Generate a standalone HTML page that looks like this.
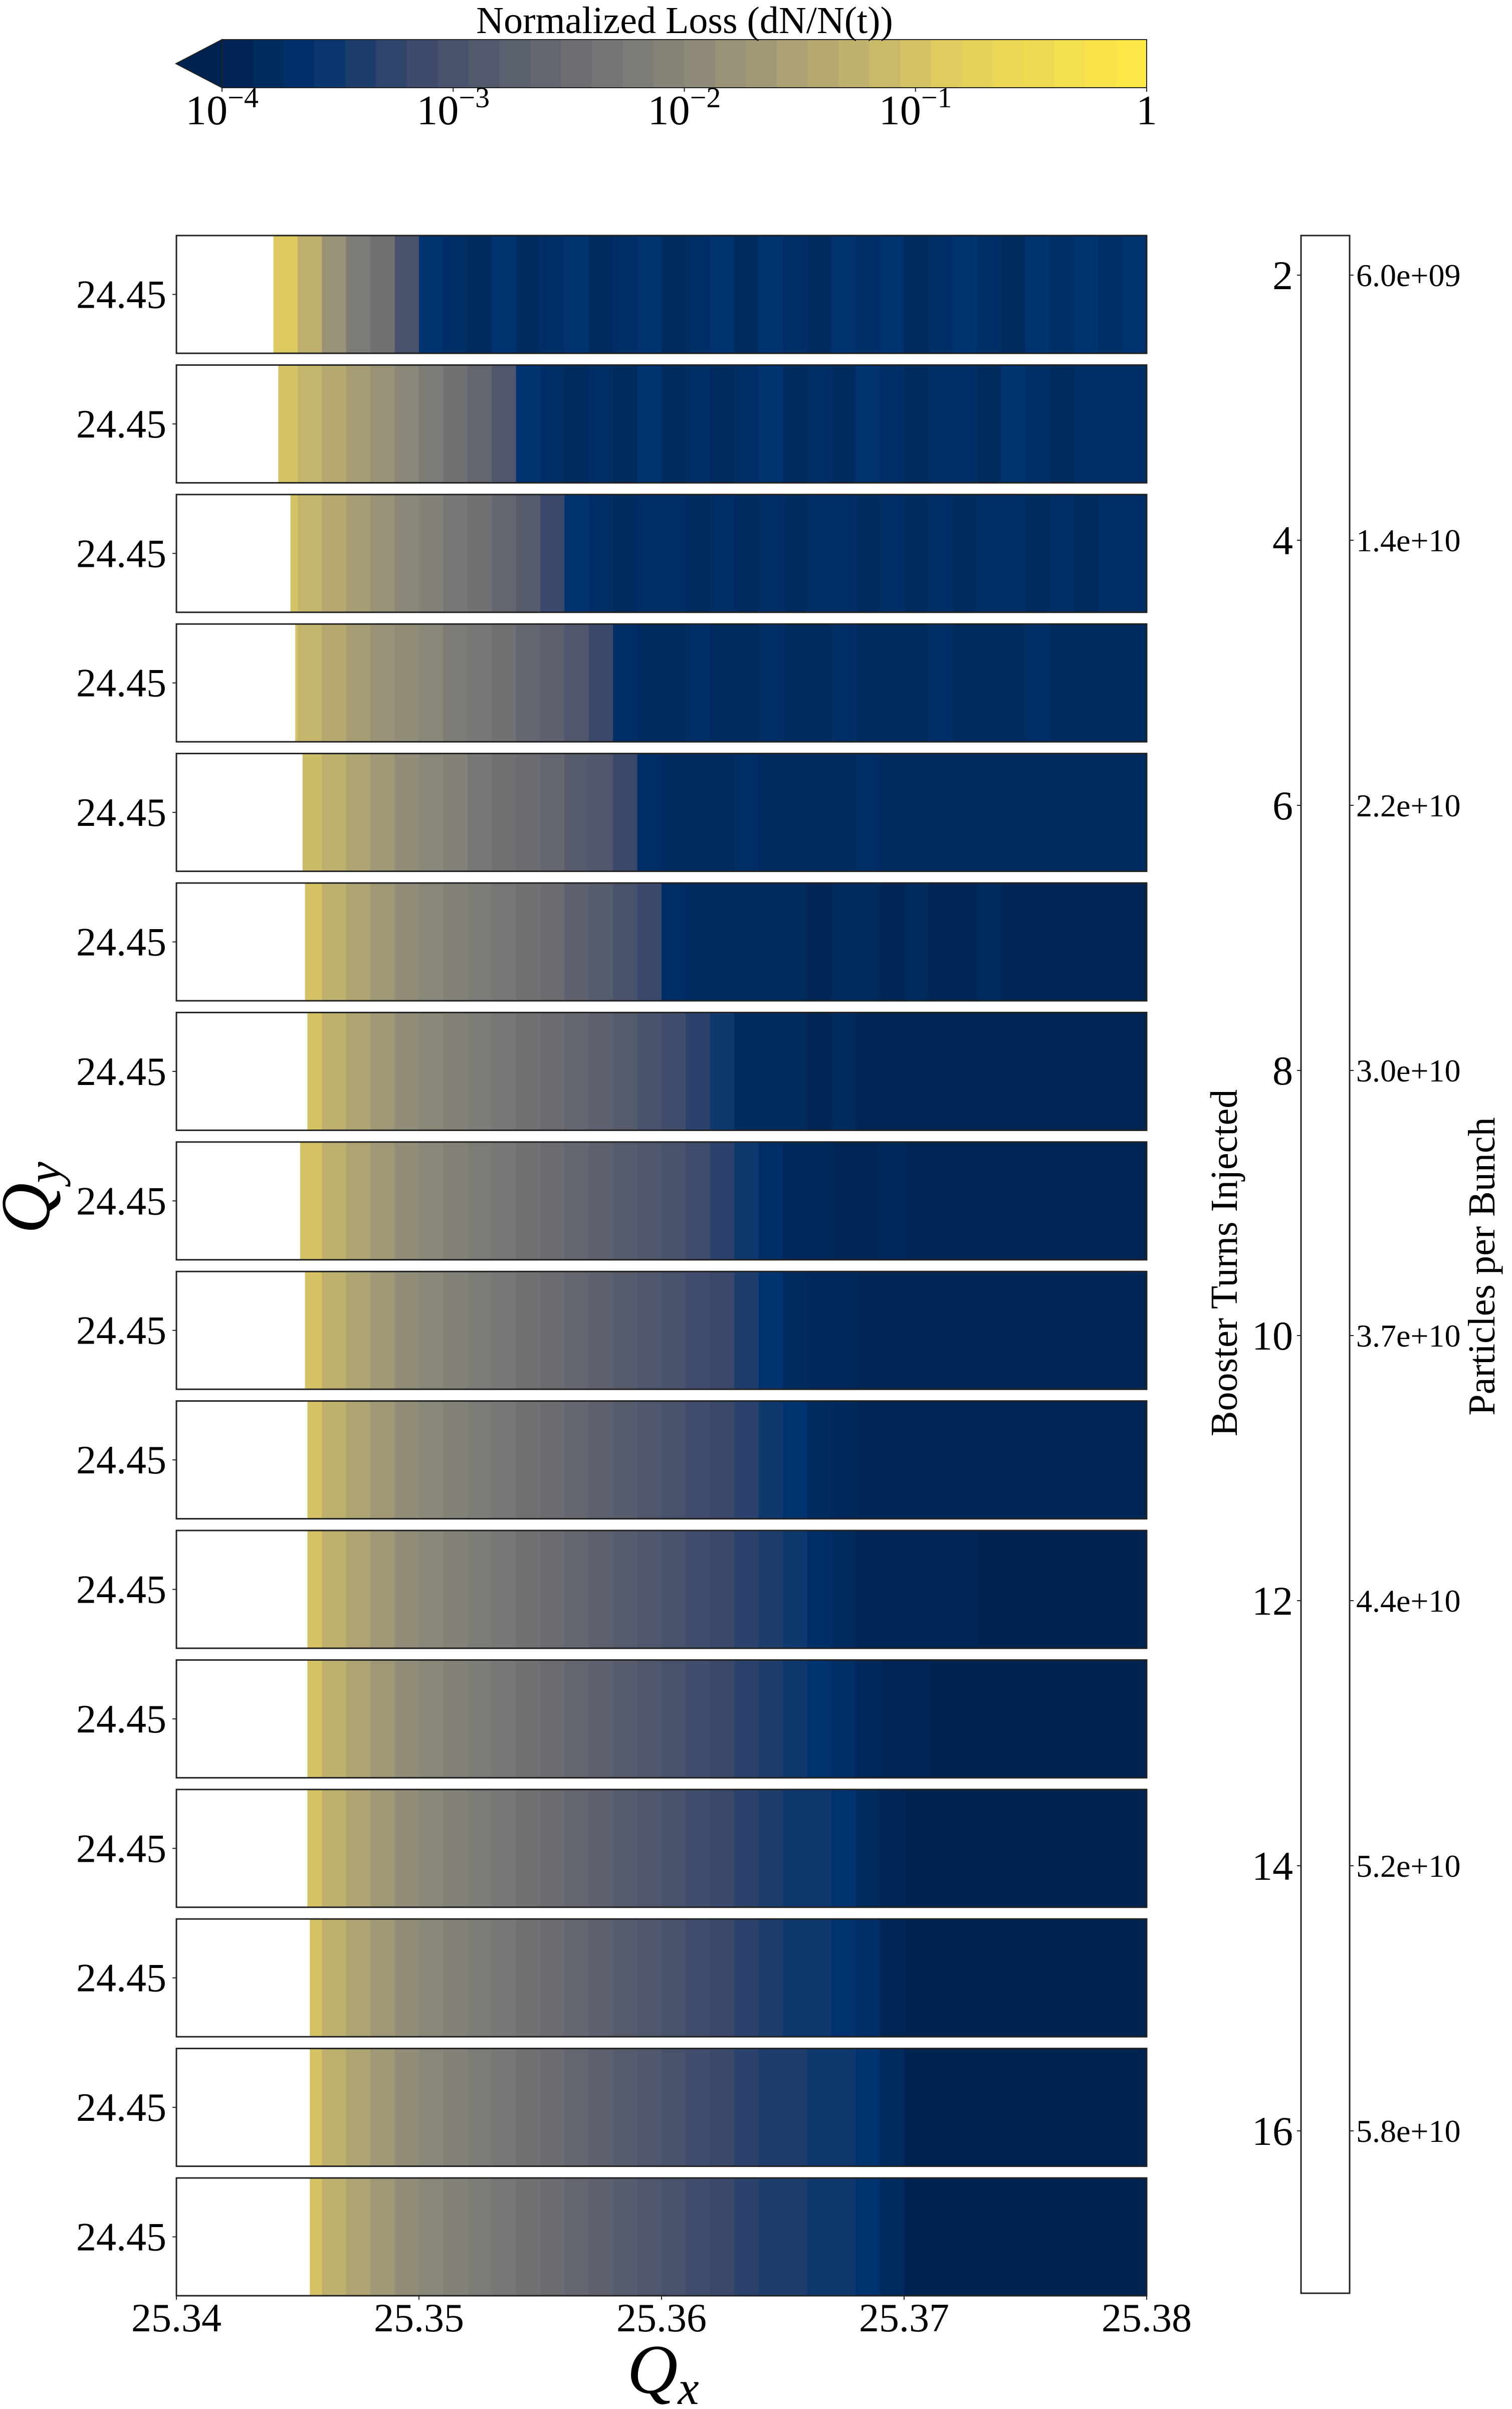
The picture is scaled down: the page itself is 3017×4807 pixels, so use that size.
<!DOCTYPE html>
<html><head><meta charset="utf-8"><style>
html,body{margin:0;padding:0;background:#fff;}
svg{display:block;font-family:"Liberation Serif","DejaVu Serif",serif;}
</style></head><body>
<svg id="fig" width="3017" height="4807" viewBox="0 0 3017 4807" xmlns="http://www.w3.org/2000/svg">
<g id="cbar"></g>
<g id="panels"></g>
<g id="right"></g>
</svg>
<script>
// ---- data ----
const qxTicks = [25.34, 25.35, 25.36, 25.37, 25.38];
const qxTickLabels = ["25.34","25.35","25.36","25.37","25.38"];
const qyLabel = "24.45";
const binStart = 25.340;
const binWidth = 0.001;
const panelEdges = [25.3440,25.3442,25.3447,25.3449,25.3452,25.3453,25.3454,25.3451,25.3453,25.3454,25.3454,25.3454,25.3454,25.3455,25.3455,25.3455];
const loss1 = [null,null,null,null,-0.9,-1.3,-1.8,-2.2,-2.4,-3.0,-3.6,-3.7,-3.8,-3.6,-3.8,-3.7,-3.6,-3.8,-3.7,-3.6,-3.8,-3.7,-3.6,-3.8,-3.6,-3.7,-3.8,-3.6,-3.7,-3.6,-3.8,-3.7,-3.6,-3.7,-3.8,-3.6,-3.7,-3.6,-3.7,-3.6];
const loss2 = [null,null,null,null,-1.0,-1.2,-1.4,-1.6,-1.8,-2.0,-2.2,-2.4,-2.6,-2.9,-3.6,-3.7,-3.8,-3.7,-3.8,-3.6,-3.8,-3.7,-3.8,-3.7,-3.6,-3.8,-3.7,-3.8,-3.6,-3.7,-3.8,-3.7,-3.7,-3.8,-3.6,-3.7,-3.8,-3.7,-3.7,-3.7];
const loss3 = [null,null,null,null,-1.0,-1.2,-1.4,-1.6,-1.8,-2.0,-2.1,-2.3,-2.4,-2.6,-2.8,-3.2,-3.6,-3.7,-3.8,-3.7,-3.7,-3.8,-3.7,-3.8,-3.7,-3.8,-3.7,-3.7,-3.8,-3.7,-3.8,-3.7,-3.8,-3.7,-3.7,-3.8,-3.7,-3.8,-3.7,-3.7];
const loss4 = [null,null,null,null,-1.0,-1.2,-1.4,-1.6,-1.8,-1.9,-2.0,-2.2,-2.3,-2.4,-2.6,-2.7,-2.9,-3.2,-3.7,-3.8,-3.8,-3.7,-3.8,-3.8,-3.7,-3.8,-3.8,-3.7,-3.8,-3.8,-3.8,-3.7,-3.8,-3.8,-3.8,-3.7,-3.8,-3.8,-3.8,-3.8];
const loss5 = [null,null,null,null,null,-1.1,-1.3,-1.5,-1.7,-1.9,-2.0,-2.1,-2.3,-2.4,-2.5,-2.6,-2.8,-2.9,-3.2,-3.7,-3.8,-3.8,-3.8,-3.7,-3.8,-3.8,-3.8,-3.8,-3.7,-3.8,-3.8,-3.8,-3.8,-3.8,-3.8,-3.8,-3.8,-3.8,-3.8,-3.8];
const loss6 = [null,null,null,null,null,-1.0,-1.3,-1.5,-1.7,-1.9,-2.0,-2.1,-2.2,-2.3,-2.4,-2.5,-2.7,-2.8,-3.0,-3.2,-3.7,-3.8,-3.8,-3.8,-3.8,-3.8,-3.9,-3.8,-3.8,-3.9,-3.8,-3.9,-3.9,-3.8,-3.9,-3.9,-3.9,-3.9,-3.9,-3.9];
const loss7 = [null,null,null,null,null,-1.0,-1.3,-1.5,-1.7,-1.9,-2.0,-2.1,-2.2,-2.3,-2.4,-2.5,-2.6,-2.7,-2.8,-3.0,-3.1,-3.3,-3.5,-3.8,-3.8,-3.8,-3.9,-3.8,-3.9,-3.9,-3.9,-3.9,-3.9,-3.9,-3.9,-3.9,-3.9,-3.9,-3.9,-3.9];
const loss8 = [null,null,null,null,null,-1.0,-1.3,-1.5,-1.7,-1.9,-2.0,-2.1,-2.2,-2.3,-2.4,-2.5,-2.6,-2.7,-2.8,-2.9,-3.0,-3.1,-3.3,-3.5,-3.7,-3.85,-3.85,-3.9,-3.9,-3.85,-3.9,-3.9,-3.9,-3.9,-3.9,-3.9,-3.9,-3.9,-3.9,-3.9];
const loss9 = [null,null,null,null,null,-1.0,-1.3,-1.5,-1.7,-1.9,-2.0,-2.1,-2.2,-2.3,-2.4,-2.5,-2.6,-2.7,-2.8,-2.9,-3.0,-3.1,-3.2,-3.4,-3.6,-3.8,-3.85,-3.85,-3.9,-3.9,-3.9,-3.9,-3.9,-3.9,-3.9,-3.9,-3.9,-3.9,-3.9,-3.9];
const loss10 = [null,null,null,null,null,-1.0,-1.3,-1.5,-1.7,-1.9,-2.0,-2.1,-2.2,-2.3,-2.4,-2.5,-2.6,-2.7,-2.8,-2.9,-3.0,-3.1,-3.2,-3.3,-3.5,-3.6,-3.8,-3.85,-3.9,-3.9,-3.9,-3.9,-3.9,-3.9,-3.9,-3.9,-3.9,-3.9,-3.9,-3.9];
const loss11 = [null,null,null,null,null,-1.0,-1.3,-1.5,-1.7,-1.9,-2.0,-2.1,-2.2,-2.3,-2.4,-2.5,-2.6,-2.7,-2.8,-2.9,-3.0,-3.1,-3.2,-3.3,-3.4,-3.5,-3.7,-3.8,-3.9,-3.9,-3.9,-3.9,-3.9,-3.95,-3.95,-3.95,-3.95,-3.95,-3.95,-3.95];
const loss12 = [null,null,null,null,null,-1.0,-1.3,-1.5,-1.7,-1.9,-2.0,-2.1,-2.2,-2.3,-2.4,-2.5,-2.6,-2.7,-2.8,-2.9,-3.0,-3.1,-3.2,-3.3,-3.4,-3.5,-3.6,-3.7,-3.85,-3.9,-3.9,-3.95,-3.95,-3.95,-3.95,-3.95,-3.95,-3.95,-3.95,-3.95];
const loss13 = [null,null,null,null,null,-1.0,-1.3,-1.5,-1.7,-1.9,-2.0,-2.1,-2.2,-2.3,-2.4,-2.5,-2.6,-2.7,-2.8,-2.9,-3.0,-3.1,-3.2,-3.3,-3.4,-3.5,-3.5,-3.6,-3.8,-3.9,-3.95,-3.95,-3.95,-3.95,-3.95,-3.95,-3.95,-3.95,-3.95,-3.95];
const loss14 = [null,null,null,null,null,-1.0,-1.3,-1.5,-1.7,-1.9,-2.0,-2.1,-2.2,-2.3,-2.4,-2.5,-2.6,-2.7,-2.8,-2.9,-3.0,-3.1,-3.2,-3.3,-3.4,-3.5,-3.5,-3.6,-3.7,-3.9,-3.95,-3.95,-3.95,-3.95,-3.95,-3.95,-3.95,-3.95,-3.95,-3.95];
const loss15 = [null,null,null,null,null,-1.0,-1.3,-1.5,-1.7,-1.9,-2.0,-2.1,-2.2,-2.3,-2.4,-2.5,-2.6,-2.7,-2.8,-2.9,-3.0,-3.1,-3.2,-3.3,-3.4,-3.4,-3.5,-3.5,-3.6,-3.8,-3.95,-3.95,-3.95,-3.95,-3.95,-3.95,-3.95,-3.95,-3.95,-3.95];
const loss16 = [null,null,null,null,null,-1.0,-1.3,-1.5,-1.7,-1.9,-2.0,-2.1,-2.2,-2.3,-2.4,-2.5,-2.6,-2.7,-2.8,-2.9,-3.0,-3.1,-3.2,-3.3,-3.4,-3.4,-3.5,-3.5,-3.6,-3.8,-3.95,-3.95,-3.95,-3.95,-3.95,-3.95,-3.95,-3.95,-3.95,-3.95];
const panelLosses = [loss1,loss2,loss3,loss4,loss5,loss6,loss7,loss8,loss9,loss10,loss11,loss12,loss13,loss14,loss15,loss16];
const turnTicks = [2,4,6,8,10,12,14,16];
const bunchLabels = ["6.0e+09","1.4e+10","2.2e+10","3.0e+10","3.7e+10","4.4e+10","5.2e+10","5.8e+10"];
const cbarTickExps = [-4,-3,-2,-1,0];

// ---- layout ----
const NS="http://www.w3.org/2000/svg";
const X0=352, X1=2288, PTOP=470, PH=235, PSTEP=258.4;
const xScale = q => X0 + (q-25.34)/(25.38-25.34)*(X1-X0);
const CB0=443, CB1=2288, CBT=79, CBB=175;
const cScale = e => CB0 + (e+4)/4*(CB1-CB0);
const TURN_Y0=549, TURN_STEP2=529;
const turnScale = n => TURN_Y0 + (n-2)/2*TURN_STEP2;

const stops=[[0,[0,34,78]],[0.1,[0,51,111]],[0.2,[57,72,107]],[0.3,[87,92,109]],[0.4,[112,113,115]],[0.5,[138,135,121]],[0.6,[166,157,117]],[0.7,[196,181,108]],[0.8,[228,207,91]],[1,[255,234,70]]];
function cmap(v){
  let t=Math.max(0,Math.min(1,(v+4)/4));
  for(let i=1;i<stops.length;i++){
    if(t<=stops[i][0]){
      const a=stops[i-1],b=stops[i],f=(t-a[0])/(b[0]-a[0]);
      const c=a[1].map((x,k)=>Math.round(x+(b[1][k]-x)*f));
      return `rgb(${c[0]},${c[1]},${c[2]})`;
    }
  }
  return 'rgb(255,234,70)';
}
function mk(tag,attrs,parent,text){
  const e=document.createElementNS(NS,tag);
  for(const k in attrs)e.setAttribute(k,attrs[k]);
  if(text!==undefined)e.textContent=text;
  parent.appendChild(e);return e;
}

// ---- top colorbar ----
const cb=document.getElementById('cbar');
const NB=30;
for(let i=0;i<NB;i++){
  const e0=-4+4*i/NB;
  const r=mk('rect',{x:cScale(e0),y:CBT,width:(CB1-CB0)/NB+1,height:CBB-CBT,fill:cmap(e0+2/NB)},cb);
  
  
}
const tri=mk('polygon',{points:`${CB0},${CBT} 351,${(CBT+CBB)/2} ${CB0},${CBB}`,fill:cmap(-4),stroke:'#222','stroke-width':2},cb);


const cbo=mk('polyline',{points:`${CB0},${CBT} ${CB1},${CBT} ${CB1},${CBB} ${CB0},${CBB}`,fill:'none',stroke:'#222','stroke-width':2},cb);


const ttl=mk('text',{x:1366,y:66,'font-size':76,'text-anchor':'middle'},cb,'Normalized Loss (dN/N(t))');


cbarTickExps.forEach(e=>{
  const x=cScale(e);
  const tk=mk('line',{x1:x,x2:x,y1:CBB,y2:CBB+8,stroke:'#222','stroke-width':2},cb);
  
  
  const t=mk('text',{x:x,y:248,'font-size':84,'text-anchor':'middle'},cb);
  
  
  if(e===0){t.textContent='1';}
  else{
    mk('tspan',{},t,'10');
    mk('tspan',{dy:-34,'font-size':58},t,'\u2212'+(-e));
  }
});

// ---- panels ----
const pg=document.getElementById('panels');
panelLosses.forEach((arr,p)=>{
  const y=PTOP+p*PSTEP;
  const g=mk('g',{},pg);
  
  
  const edgeX=xScale(panelEdges[p]);
  arr.forEach((v,i)=>{
    if(v===null)return;
    let xa=xScale(binStart+i*binWidth), xb=xScale(binStart+(i+1)*binWidth);
    xa=Math.max(xa,edgeX);
    if(xb<=xa)return;
    const r=mk('rect',{x:xa,y:y,width:xb-xa+0.8,height:PH,fill:cmap(v)},g);
    
    
  });
  const fr=mk('rect',{x:X0,y:y,width:X1-X0,height:PH,fill:'none',stroke:'#222','stroke-width':3},g);
  
  
  const tk=mk('line',{x1:X0-8,x2:X0,y1:y+PH/2,y2:y+PH/2,stroke:'#222','stroke-width':2},g);
  
  
  const lb=mk('text',{x:332,y:y+PH/2+27,'font-size':80,'text-anchor':'end'},g,qyLabel);
  
  
});
const yb=PTOP+15*PSTEP+PH;
qxTicks.forEach((q,i)=>{
  const x=xScale(q);
  const tk=mk('line',{x1:x,x2:x,y1:yb,y2:yb+8,stroke:'#222','stroke-width':2},pg);
  
  
  const t=mk('text',{x:x,y:4652,'font-size':80,'text-anchor':'middle'},pg,qxTickLabels[i]);
  
  
});
const qx=mk('text',{x:1323,y:4775,'font-size':140,'font-style':'italic','text-anchor':'middle'},pg);


mk('tspan',{},qx,'Q');
mk('tspan',{dy:22,'font-size':95},qx,'x');
const qy=mk('text',{x:0,y:0,'font-size':140,'font-style':'italic','text-anchor':'middle',transform:'translate(98,2390) rotate(-90)'},pg);


mk('tspan',{},qy,'Q');
mk('tspan',{dy:22,'font-size':95},qy,'y');

// ---- right axis ----
const rg=document.getElementById('right');
const rb=mk('rect',{x:2596,y:470,width:97,height:4106,fill:'#fff',stroke:'#222','stroke-width':3},rg);


turnTicks.forEach((n,i)=>{
  const y=turnScale(n);
  const t1=mk('line',{x1:2588,x2:2596,y1:y,y2:y,stroke:'#222','stroke-width':2},rg);
  
  
  const t2=mk('line',{x1:2693,x2:2701,y1:y,y2:y,stroke:'#222','stroke-width':2},rg);
  
  
  const l1=mk('text',{x:2580,y:y+28,'font-size':82,'text-anchor':'end'},rg,String(n));
  
  
  const l2=mk('text',{x:2706,y:y+22,'font-size':64},rg,bunchLabels[i]);
  
  
});
const bt=mk('text',{x:0,y:0,'font-size':76,'text-anchor':'middle',transform:'translate(2468,2520) rotate(-90)'},rg,'Booster Turns Injected');


const pb=mk('text',{x:0,y:0,'font-size':76,'text-anchor':'middle',transform:'translate(2982,2527) rotate(-90)'},rg,'Particles per Bunch');


</script>
</body></html>
